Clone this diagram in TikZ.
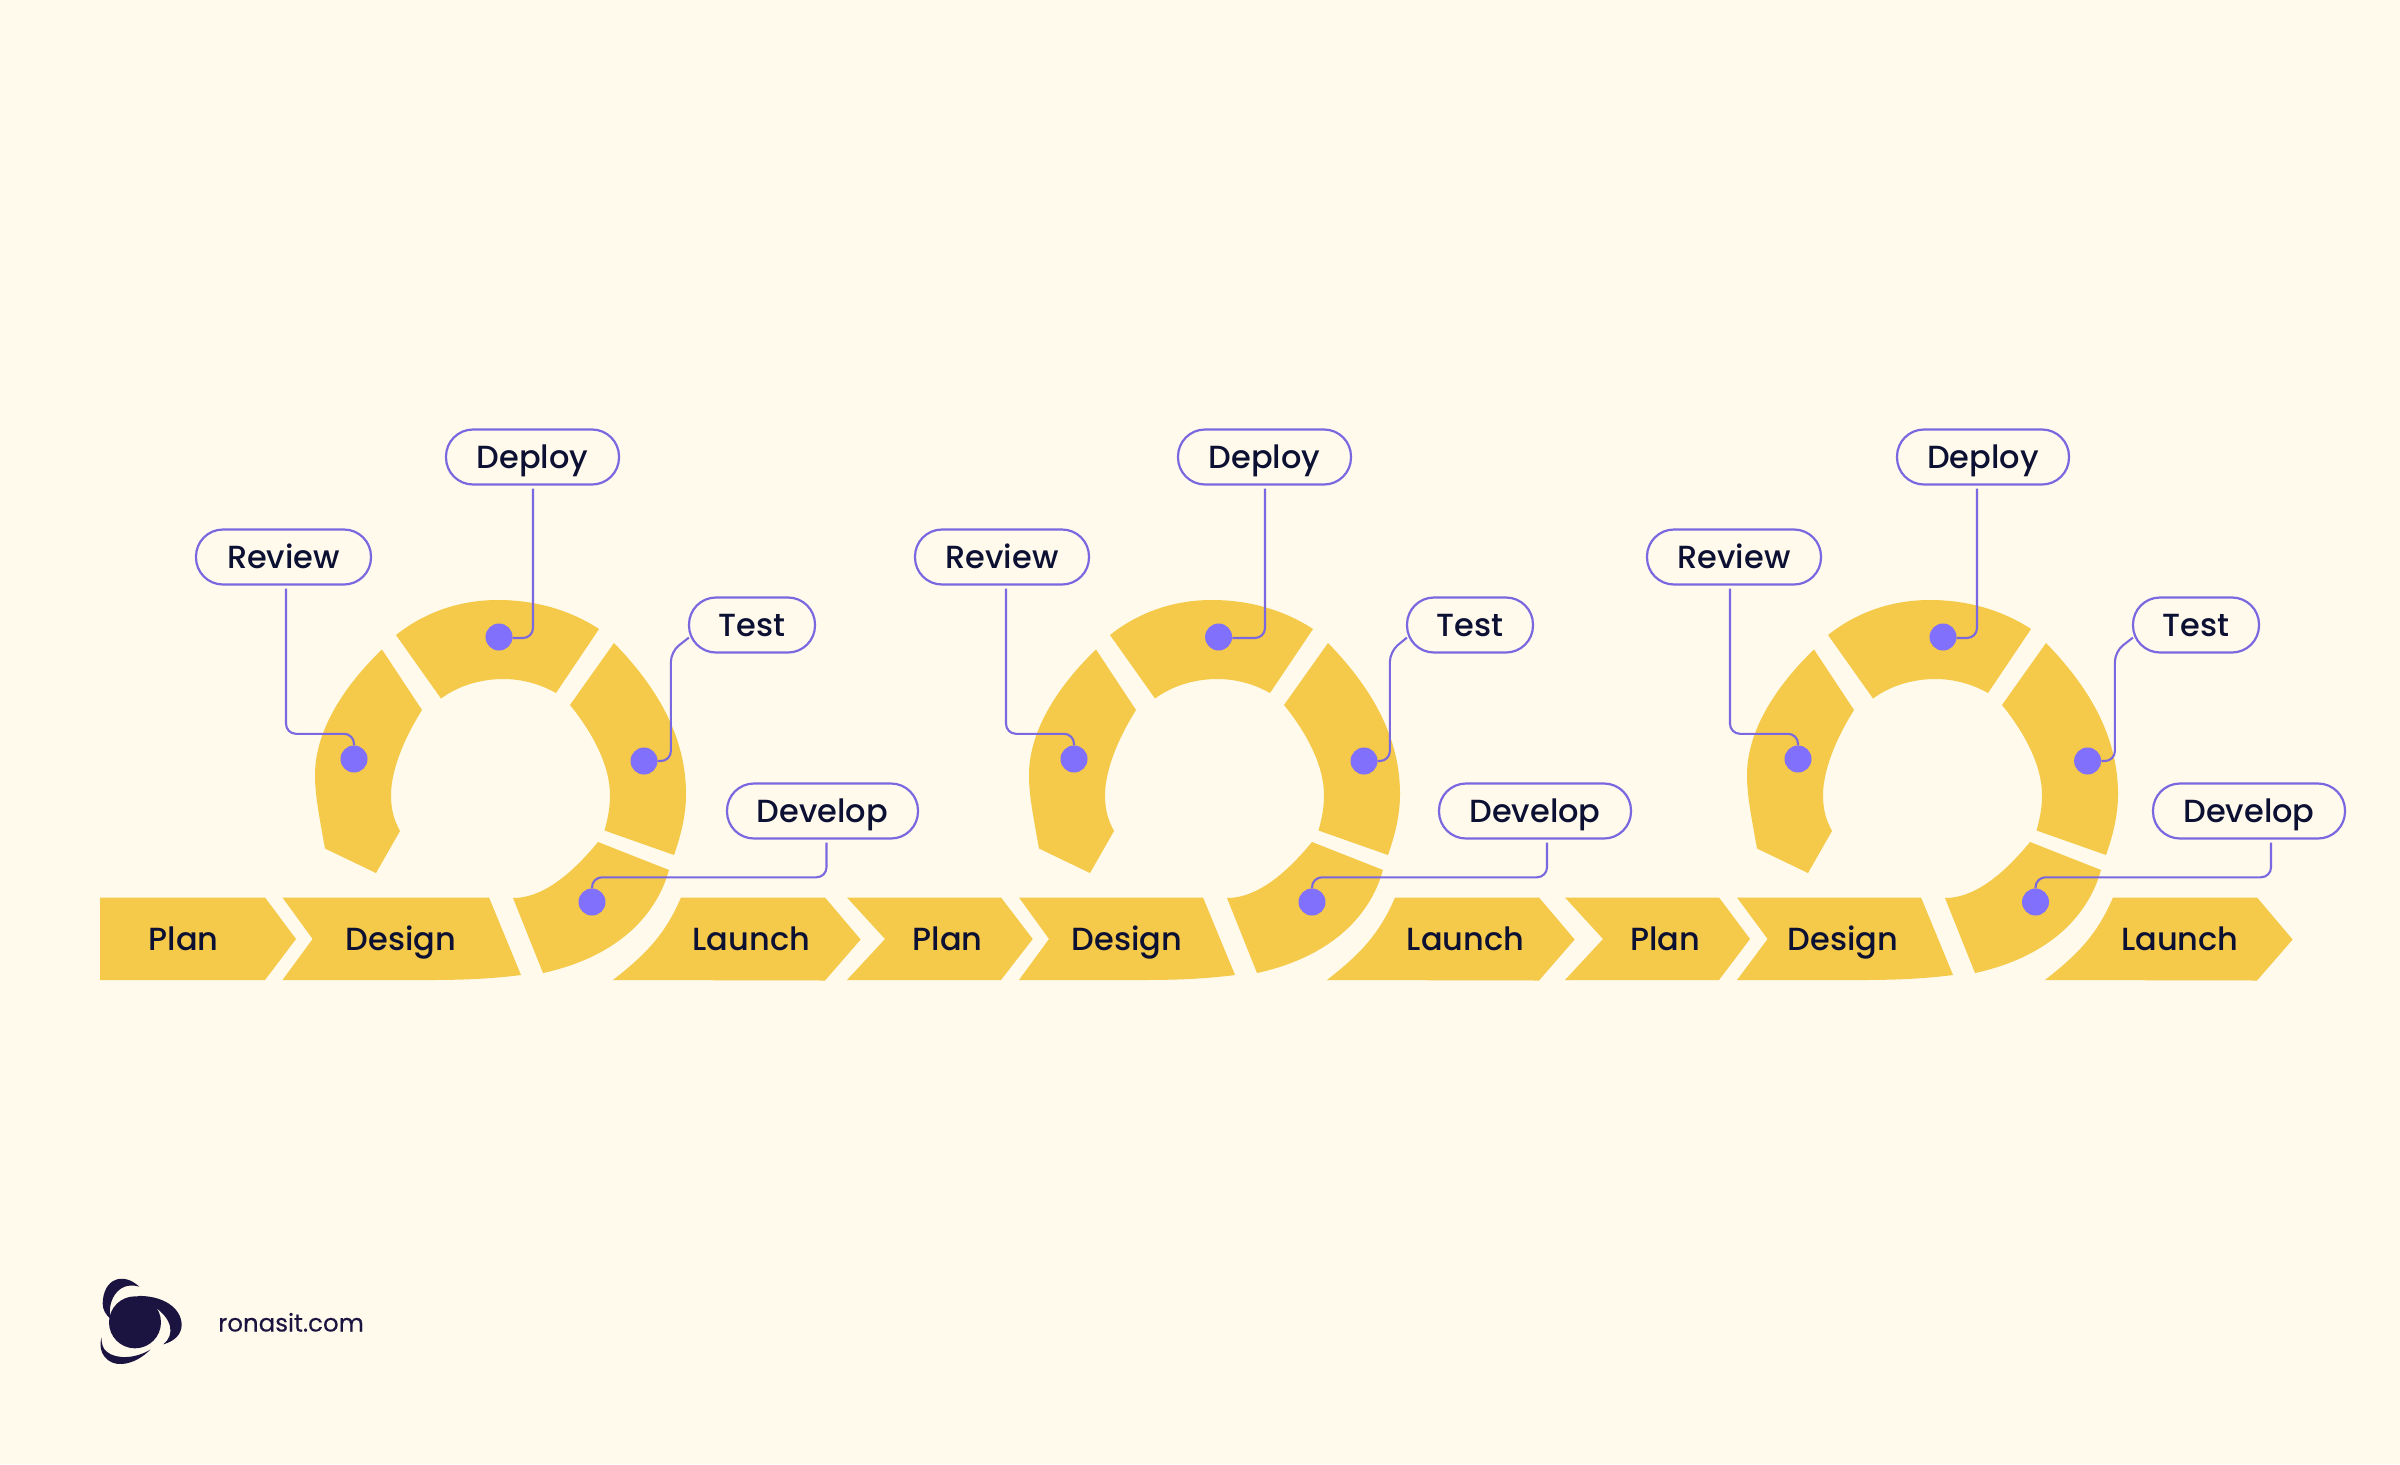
\documentclass[tikz,border=0pt]{standalone}
\usepackage{fontspec}
\setmainfont{Poppins}[UprightFont=* Medium]
\newfontfamily\urlfont{Poppins}[FakeBold=0.3]
\usetikzlibrary{calc}
\definecolor{bgc}{HTML}{FFFAEB}
\definecolor{seg}{HTML}{F5C949}
\definecolor{vio}{HTML}{7A68E0}
\definecolor{dotc}{HTML}{8070FB}
\definecolor{ink}{HTML}{0C1033}
\definecolor{logoc}{HTML}{1B1440}
\tikzset{
  x=1pt,y=-1pt,
  seglab/.style={text=ink,font=\fontsize{32}{32}\selectfont,inner sep=0pt,anchor=center,text height=27pt,text depth=4pt},
  pill/.style={draw=vio,line width=2.2pt,fill=bgc,rounded corners=27pt,minimum height=55pt,text=ink,font=\fontsize{32}{32}\selectfont,inner sep=0pt,text height=27pt,text depth=4pt},
  dotn/.style={circle,fill=dotc,minimum size=27pt,inner sep=0pt},
  conn/.style={draw=vio,line width=2.1pt,rounded corners=10pt},
}
\begin{document}
\begin{tikzpicture}
\useasboundingbox (0,0) rectangle (2400,1464);
\fill[bgc] (0,0) rectangle (2400,1464);
% rings
\foreach \dx in {0,714,1432}{
\begin{scope}[xshift=\dx pt]
  \fill[seg] (396,635) .. controls (425,612) and (460,600) .. (498,600) .. controls (535,600) and (570,610) .. (599,629) -- (556,693)
     .. controls (540,684) and (522,679) .. (503.5,679) .. controls (480,679) and (458,686) .. (441,698.5) -- cycle;
  \fill[seg] (614,643) .. controls (650,680) and (686,730) .. (686,794) .. controls (686,815) and (681,835) .. (674,855) -- (604.5,830.5)
     .. controls (608,818) and (610,808) .. (610,795) .. controls (610,765) and (592,732) .. (570,705) -- cycle;
  \fill[seg] (598,842) -- (669,870)
     .. controls (655,920) and (612,958) .. (543,973) -- (513,898)
     .. controls (545,898) and (575,870) .. (598,842) -- cycle;
  \fill[seg] (382,649.5) -- (422,710)
     .. controls (400,745) and (391,775) .. (391,795) .. controls (391,810) and (394,820) .. (400,831) -- (376,873) -- (325,848.5)
     .. controls (319,815) and (315,795) .. (315,775) .. controls (315,730) and (345,685) .. (382,649.5) -- cycle;
  \fill[seg] (613,980) .. controls (645,955) and (665,935) .. (681,897.5) -- (825,897.5) -- (860.6,939.5) -- (825,980.5) -- cycle;
\end{scope}}
% plan arrows
\foreach \L/\N/\R/\T in {100/100/265/296, 847/885/1001/1032.7, 1565/1603/1719/1750}{
  \fill[seg] (\L,897.5) -- (\R,897.5) -- (\T,939) -- (\R,980) -- (\L,980) -- (\N,939) -- cycle;
}
% design arrows
\foreach \dx/\L/\N in {0/282.5/312.6, 714/1019/1049, 1432/1737/1767.6}{
\begin{scope}[xshift=\dx pt]
  \pgfmathsetmacro\LL{\L-\dx}\pgfmathsetmacro\NN{\N-\dx}
  \fill[seg] (\LL,897.5) -- (489,897.5) -- (521,975) .. controls (490,979) and (460,980) .. (430,980) -- (\LL,980) -- (\NN,939) -- cycle;
\end{scope}}
% bar labels
\foreach \n/\x/\t in {a/183.6/Plan, b/401/Design, c/751.4/Launch, d/947.5/Plan, e/1127/Design, f/1465.5/Launch, g/1665/Plan, h/1843/Design, i/2180/Launch}{
  \node[seglab] (lab\n) at (\x,939) {\t};
}
% pills
\foreach \i/\x/\w in {1/532.5/173, 2/1264.5/173, 3/1983/172}{\node[pill,minimum width=\w pt] (dep\i) at (\x,457) {Deploy};}
\foreach \i/\x/\w in {1/283.5/175, 2/1002/174, 3/1734/174}{\node[pill,minimum width=\w pt] (rev\i) at (\x,557) {Review};}
\foreach \i/\x/\w in {1/752/126, 2/1470/126, 3/2196/126}{\node[pill,minimum width=\w pt] (tes\i) at (\x,625) {Test};}
\foreach \i/\x/\w in {1/822.5/191, 2/1535/192, 3/2249/192}{\node[pill,minimum width=\w pt] (dvl\i) at (\x,811) {Develop};}
% dots
\foreach \i/\x in {1/499, 2/1218.6, 3/1943}{\node[dotn] (ddep\i) at (\x,637) {};}
\foreach \i/\x in {1/354, 2/1074, 3/1798}{\node[dotn] (drev\i) at (\x,759) {};}
\foreach \i/\x in {1/644, 2/1364, 3/2087.6}{\node[dotn] (dtes\i) at (\x,761) {};}
\foreach \i/\x in {1/592, 2/1312, 3/2035.5}{\node[dotn] (ddvl\i) at (\x,902) {};}
% connectors
\foreach \i/\s in {1/0.5, 2/0.5, 3/-6}{
  \draw[conn] ([xshift=\s pt,yshift=-3pt]dep\i.south) |- ([yshift=-1pt]ddep\i.east);}
\foreach \i/\s in {1/2.5, 2/4, 3/-4}{
  \draw[conn] ([xshift=\s pt,yshift=-3pt]rev\i.south) |- ([yshift=11.5pt]drev\i.north) -- (drev\i.north);}
\foreach \i/\d in {1/-18, 2/-17, 3/-18}{
  \draw[conn] ([yshift=16pt,xshift=1pt]tes\i.south west) -- ++(\d,14) |- (dtes\i.east);}
\foreach \i/\s in {1/4, 2/12, 3/22}{
  \draw[conn] ([xshift=\s pt,yshift=-3pt]dvl\i.south) |- ([yshift=11pt]ddvl\i.north) -- (ddvl\i.north);}
% logo
\begin{scope}[shift={(80,1250)},x=0.3333pt,y=-0.3333pt]
  \fill[logoc] (165,217) circle[radius=78];
  \fill[logoc] (178,110) .. controls (130,65) and (70,85) .. (68,160) .. controls (68,180) and (78,195) .. (92,207) .. controls (80,160) and (110,90) .. (178,110) -- cycle;
  \fill[logoc] (170,138) .. controls (250,135) and (305,175) .. (305,225) .. controls (305,255) and (280,275) .. (250,283) .. controls (285,255) and (280,205) .. (215,165) -- cycle;
  \fill[logoc] (65,262) .. controls (50,310) and (85,345) .. (125,342) .. controls (160,340) and (190,320) .. (212,298) .. controls (170,325) and (110,330) .. (80,305) .. controls (68,295) and (64,280) .. (65,262) -- cycle;
\end{scope}
\node[text=logoc,font=\urlfont\fontsize{24.5}{24.5}\selectfont,inner sep=0pt,anchor=base west] (url) at (218,1331.5) {ronasit.com};
\end{tikzpicture}
\end{document}
